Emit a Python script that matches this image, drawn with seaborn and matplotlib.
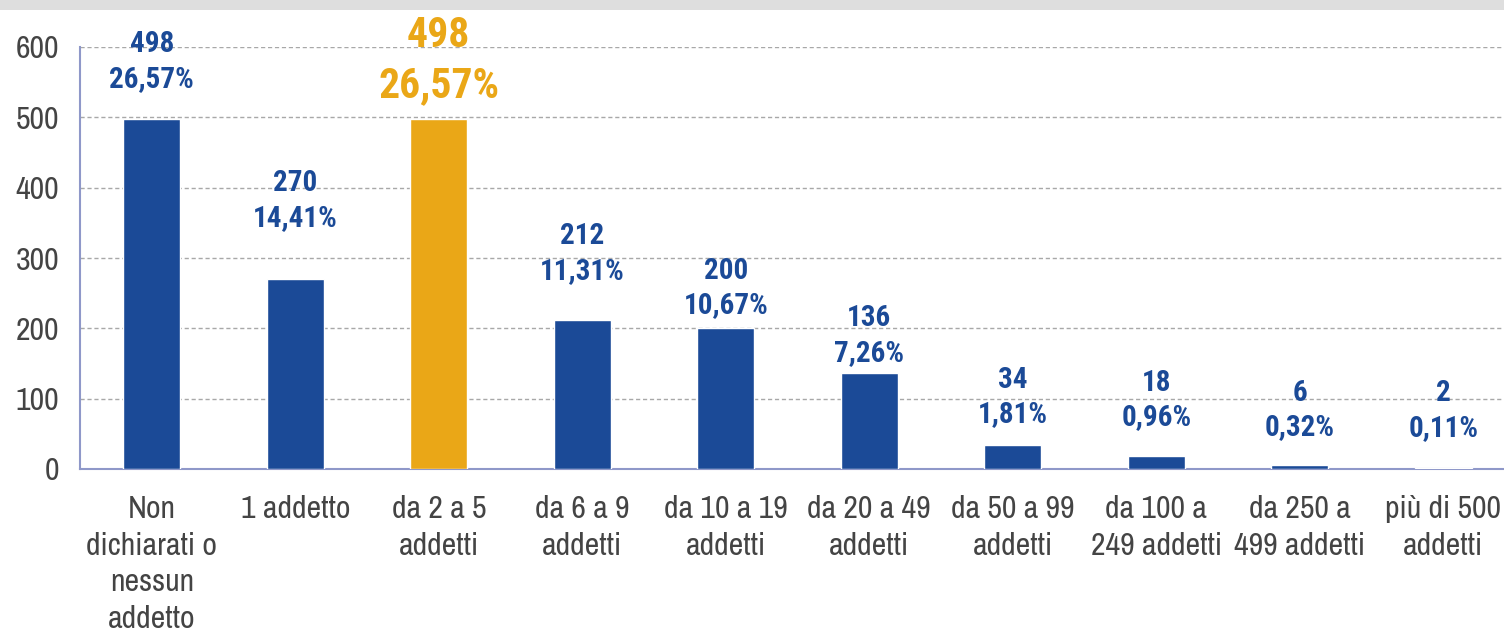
import matplotlib
matplotlib.use("Agg")
import matplotlib.pyplot as plt
import seaborn as sns
from matplotlib.patches import Rectangle
from matplotlib.ticker import FixedLocator

# data
categories = ["Non\ndichiarati o\nnessun\naddetto", "1 addetto", "da 2 a 5\naddetti",
              "da 6 a 9\naddetti", "da 10 a 19\naddetti", "da 20 a 49\naddetti",
              "da 50 a 99\naddetti", "da 100 a\n249 addetti", "da 250 a\n499 addetti",
              "più di 500\naddetti"]
counts = [498, 270, 498, 212, 200, 136, 34, 18, 6, 2]
percents = ["26,57%", "14,41%", "26,57%", "11,31%", "10,67%", "7,26%",
            "1,81%", "0,96%", "0,32%", "0,11%"]
highlight = 2

# label centre heights (data units), placed by hand as in the original
label_y = [579, 382, 581, 306, 257, 190, 102, 98, 84, 83]

BLUE = "#1b4a97"
ORANGE = "#eaa717"
AXIS = "#8f98c9"
GREY = "#444444"
FONT = ["Archivo Narrow", "Roboto Condensed", "PT Sans Narrow", "DejaVu Sans"]
BOLD_FONT = ["Roboto Condensed", "PT Sans Narrow", "Archivo Narrow", "DejaVu Sans"]

sns.set_style("white")
plt.rcParams["font.family"] = FONT

fig = plt.figure(figsize=(15.04, 6.36), dpi=100)
ax = fig.add_axes([80 / 1504, 167 / 636, 1424 / 1504, 422 / 636])

colors = [ORANGE if i == highlight else BLUE for i in range(len(counts))]
sns.barplot(x=categories, y=counts, hue=categories, palette=colors,
            legend=False, width=0.4, ax=ax, zorder=3, saturation=1)

ax.set_xlim(-0.5, -0.5 + 1424 / 143.5)
ax.set_ylim(0, 600)
ax.set_yticks(range(0, 601, 100))
ax.yaxis.grid(True, color="#a8a8a8", linestyle=(0, (3, 2)), linewidth=1, zorder=0)
ax.set_axisbelow(True)

for s in ["top", "right"]:
    ax.spines[s].set_visible(False)
for s in ["left", "bottom"]:
    ax.spines[s].set_color(AXIS)
    ax.spines[s].set_linewidth(1.5)

ax.tick_params(axis="y", direction="out", length=7, width=1.5, color=AXIS,
               labelsize=23, labelcolor=GREY, pad=8)
ax.tick_params(axis="x", which="major", length=0, labelsize=23,
               labelcolor=GREY, pad=19)
ax.xaxis.set_minor_locator(FixedLocator([i - 0.5 for i in range(len(counts))]))
ax.tick_params(axis="x", which="minor", direction="out", length=9, width=1.5, color=AXIS)
for lab in ax.get_xticklabels():
    lab.set_linespacing(1.37)
ax.set_xlabel("")
ax.set_ylabel("")

for i, (c, p) in enumerate(zip(counts, percents)):
    if i == highlight:
        ax.text(i, label_y[i], f"{c}\n{p}", ha="center", va="center", color=ORANGE,
                fontsize=30, fontweight="bold", family=BOLD_FONT,
                linespacing=1.3, clip_on=False)
    else:
        ax.text(i, label_y[i], f"{c}\n{p}", ha="center", va="center", color=BLUE,
                fontsize=21, fontweight="bold", family=BOLD_FONT,
                linespacing=1.3, clip_on=False)

# grey band along the top edge
fig.patches.append(Rectangle((0, 1 - 10 / 636), 1, 10 / 636, transform=fig.transFigure,
                             facecolor="#dedede", edgecolor="none"))

fig.savefig("out.png", dpi=100)
